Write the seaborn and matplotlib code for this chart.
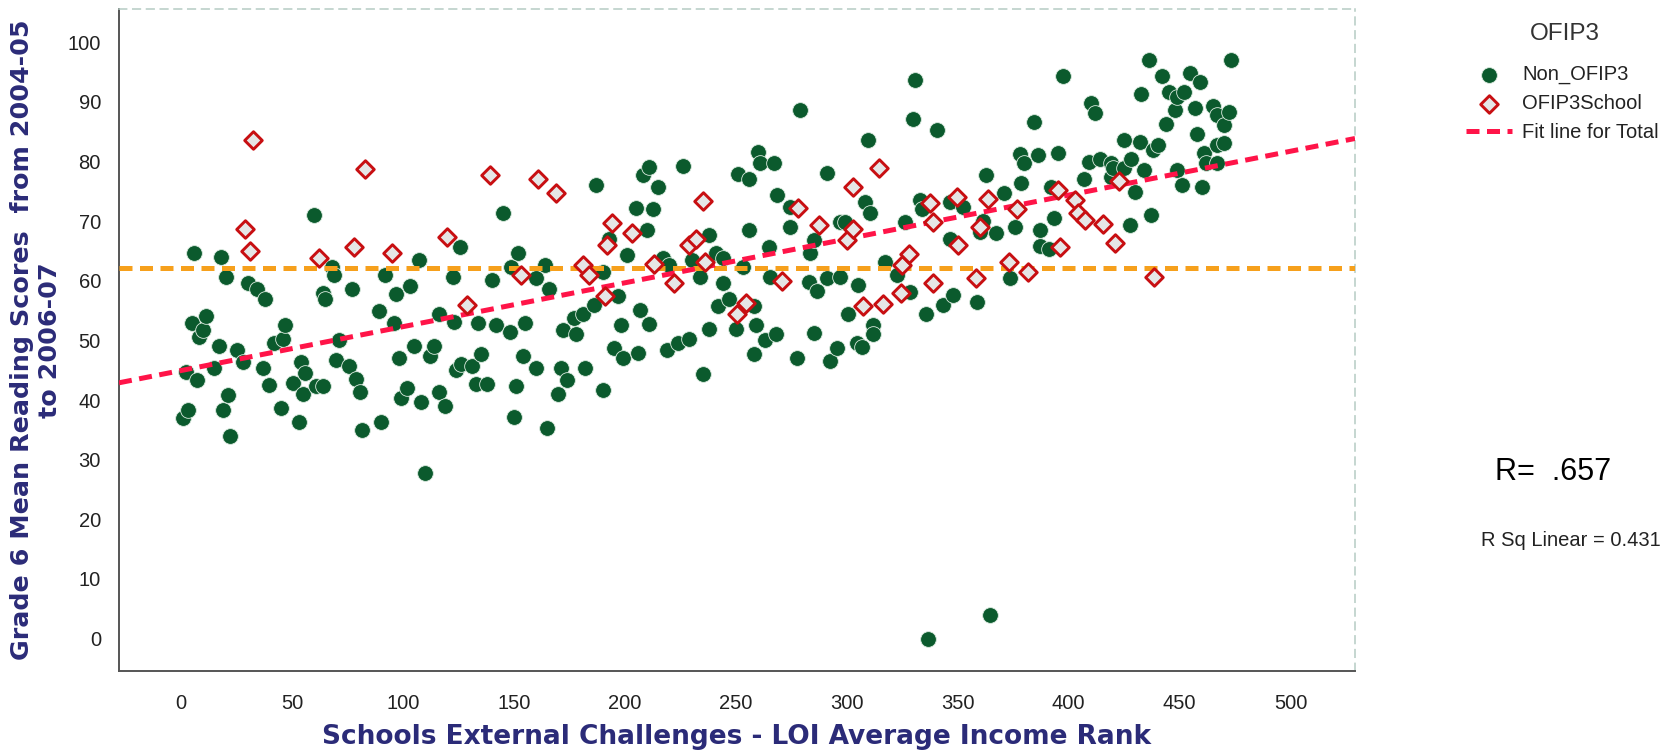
import numpy as np
import pandas as pd
import matplotlib
matplotlib.use("Agg")
import matplotlib.pyplot as plt
import seaborn as sns

# Schools not in OFIP3: LOI average income rank and grade 6 mean reading score
non_ofip3_rank = [
    1, 3, 2, 5, 6, 7, 8, 10, 11, 15, 17, 18, 19, 20, 21, 22, 25, 28, 30, 34,
    37, 38, 39.5, 42, 45, 46, 47, 50.5, 53, 54, 55, 56, 60, 61, 64, 64, 65, 68, 69, 70,
    71, 75.5, 77, 79, 80.5, 81.5, 89, 90, 92, 96, 97, 98, 99, 102, 103, 105, 107, 108, 110, 112,
    114, 116, 116, 119, 122.5, 123, 124, 125.5, 126, 131, 133, 134, 135, 138, 140, 142, 145, 148, 148.5, 150,
    151, 152, 154, 155, 160, 160, 164, 165, 166, 170, 171, 172, 174, 177, 178, 181, 182, 186, 187, 190,
    190, 193, 195, 197, 198, 199, 201, 205, 206, 207, 208, 210, 211, 211, 212.6, 215, 217, 219, 220, 224,
    226, 229, 230, 234, 235, 238, 238, 241, 242, 244, 244, 247, 250, 251, 253, 256, 256, 258, 258, 259,
    260, 261, 263, 264.7, 265.5, 267, 268, 268.5, 274.5, 274.5, 277.5, 279, 283, 283.5, 285, 285, 286.5, 291, 291, 292.5,
    295.5, 297, 299, 297, 300.5, 304.5, 305, 307, 308, 309.5, 310.5, 312, 312, 317, 322.5, 326, 328.5, 329.6, 330.5, 333,
    334, 335.7, 336.5, 340.5, 343.5, 346.5, 346.5, 348, 352.5, 358.6, 360, 361.5, 362.6, 364.5, 367, 371, 373.6, 376, 378, 378.5,
    380, 384.5, 386, 387, 387, 391, 392, 393.5, 395, 397.6, 407, 409, 410, 412, 414, 419, 419, 420, 425, 425,
    427.6, 428, 430, 432, 432.6, 434, 436, 437, 438, 440, 442, 444, 445, 448, 449, 449, 451, 452, 454.6, 457,
    458, 459, 460, 461, 462, 465, 467, 467, 467, 470, 470, 472, 473,
]
non_ofip3_score = [
    37, 38.4, 44.7, 52.9, 64.7, 43.3, 50.5, 51.8, 54.1, 45.3, 49, 64, 38.3, 60.7, 40.8, 34, 48.4, 46.4, 59.7, 58.7,
    45.3, 57, 42.5, 49.6, 38.7, 50.3, 52.6, 42.8, 36.3, 46.4, 41.1, 44.5, 71, 42.3, 42.3, 58, 57, 62.3, 61, 46.7,
    50, 45.7, 58.7, 43.6, 41.4, 35, 55, 36.3, 61, 52.9, 57.8, 47, 40.3, 42, 59.1, 49, 63.5, 39.7, 27.7, 47.4,
    49, 54.5, 41.4, 39, 60.7, 53.1, 45, 65.7, 46.1, 45.7, 42.7, 52.9, 47.7, 42.7, 60.1, 52.6, 71.3, 51.5, 62.3, 37.1,
    42.3, 64.7, 47.4, 52.9, 60.4, 45.3, 62.6, 35.3, 58.7, 41, 45.3, 51.7, 43.3, 53.7, 51.1, 54.5, 45.3, 55.9, 76.1, 61.5,
    41.7, 67.1, 48.8, 57.4, 52.6, 47, 64.3, 72.3, 47.9, 55.1, 77.7, 68.6, 79.1, 52.7, 72.1, 75.7, 63.8, 48.4, 62.6, 49.6,
    79.3, 50.2, 63.5, 60.7, 44.3, 67.7, 52, 64.6, 55.8, 63.8, 59.7, 57, 52, 78, 62.3, 77.1, 68.5, 55.8, 47.7, 52.6,
    81.6, 79.7, 50, 65.7, 60.7, 79.7, 51, 74.4, 72.4, 69, 47, 88.6, 59.8, 64.6, 66.8, 51.2, 58.3, 78.1, 60.4, 46.6,
    48.8, 69.9, 69.9, 60.7, 54.4, 49.6, 59.3, 48.9, 73.2, 83.7, 71.3, 52.6, 51, 63.2, 61, 69.9, 58.2, 87.1, 93.7, 73.5,
    72, 54.4, 0, 85.3, 55.9, 73.2, 67.1, 57.7, 72.4, 56.5, 68.2, 70.1, 77.7, 4, 68, 74.8, 60.4, 69, 81.2, 76.4,
    79.7, 86.7, 81.1, 68.6, 65.8, 65.3, 75.8, 70.6, 81.4, 94.3, 77, 80, 89.8, 88.2, 80.4, 79.7, 77.5, 78.9, 83.7, 78.9,
    69.3, 80.4, 74.9, 83.3, 91.3, 78.6, 97, 71, 82, 82.8, 94.3, 86.3, 91.7, 88.6, 90.9, 78.6, 76.1, 91.7, 94.8, 89,
    84.7, 93.4, 75.7, 81.4, 79.7, 89.3, 87.8, 82.8, 79.8, 83.1, 86.1, 88.4, 97,
]

# OFIP3 schools
ofip3_rank = [
    29, 31, 32.3, 62, 78, 83, 95, 120, 129, 139, 153, 161, 169, 181, 184, 191, 192, 194, 203, 213,
    222, 229, 232, 235, 236, 250.5, 254.5, 271, 278, 287.5, 300, 303, 303, 307.5, 314.5, 316.5, 324.5, 325, 328, 337.5,
    339, 339, 349.5, 350, 358, 360, 363.5, 373, 376.6, 381.5, 395, 396, 403, 404, 407.5, 415.6, 421, 422.7, 438.6,
]
ofip3_score = [
    68.7, 65, 83.6, 63.8, 65.7, 78.7, 64.7, 67.4, 56, 77.7, 61, 77.1, 74.7, 62.6, 61, 57.4, 66, 69.7, 68.1, 62.9,
    59.7, 66, 67, 73.4, 63.2, 54.4, 56.3, 60, 72.3, 69.3, 66.9, 68.7, 75.7, 55.8, 79, 56.1, 57.9, 62.6, 64.5, 73.1,
    69.9, 59.7, 74.1, 66, 60.4, 69.1, 73.7, 63.2, 72, 61.5, 75.2, 65.7, 73.5, 71.3, 70.2, 69.6, 66.3, 76.7, 60.7,
]

# Overall mean reading score of all schools (reference line)
overall_mean_score = 62.1

groups = ["Non_OFIP3", "OFIP3School"]
x_ticks = list(range(0, 501, 50))
y_ticks = list(range(0, 101, 10))

df = pd.DataFrame({
    "rank": non_ofip3_rank + ofip3_rank,
    "score": non_ofip3_score + ofip3_score,
    "group": [groups[0]] * len(non_ofip3_rank) + [groups[1]] * len(ofip3_rank),
})

sns.set_style("white")
plt.rcParams["font.family"] = ["Liberation Sans", "DejaVu Sans"]

W, H = 1677, 751
fig = plt.figure(figsize=(W / 100, H / 100), dpi=100)
ax = fig.add_axes([119 / W, 1 - 670.7 / H, (1355 - 119) / W, (670.7 - 9) / H])
xlim, ylim = (-28, 529), (-5.4, 105.6)
ax.set_xlim(*xlim)
ax.set_ylim(*ylim)

green = "#0b5a2d"
red_edge = "#c80f12"
fit_red = "#ff1448"
orange = "#f6a01c"

sns.scatterplot(data=df[df["group"] == groups[0]], x="rank", y="score", ax=ax,
                color=green, s=128, edgecolor="#dcebe0", linewidth=0.6,
                label=groups[0], zorder=2)
sns.scatterplot(data=df[df["group"] == groups[1]], x="rank", y="score", ax=ax,
                marker="D", s=80, facecolor="#e6e6e6", edgecolor=red_edge,
                linewidth=2.1, label=groups[1], zorder=4)

# Mean reference line and least-squares fit over all schools
ax.axhline(overall_mean_score, color=orange, lw=3.6, dashes=(2.6, 1.5), zorder=3)
sns.regplot(data=df, x="rank", y="score", ax=ax, scatter=False, ci=None,
            truncate=False, label="Fit line for Total",
            line_kws=dict(color=fit_red, lw=3.6, dashes=(2.6, 1.5), zorder=3))
ax.set_xlim(*xlim)
ax.set_ylim(*ylim)

ax.set_xticks(x_ticks)
ax.set_yticks(y_ticks)
ax.tick_params(axis="both", direction="out", length=11, width=1.3,
               color="#333333", labelsize=14.5, labelcolor="#222222")
ax.tick_params(axis="y", pad=2)
ax.tick_params(axis="x", pad=6)

for side in ("left", "bottom"):
    ax.spines[side].set_color("#555555")
    ax.spines[side].set_linewidth(1.4)
for side in ("top", "right"):
    ax.spines[side].set_color("#b5ccc3")
    ax.spines[side].set_linewidth(1.1)
    ax.spines[side].set_linestyle((0, (5, 4)))

title_color = "#2b2b78"
ax.set_xlabel("Schools External Challenges - LOI Average Income Rank",
              fontsize=19, fontweight="bold", color=title_color,
              family="DejaVu Sans")
ax.xaxis.set_label_coords(0.5, ((1 - 737 / H) - (1 - 670.7 / H)) / ((670.7 - 9) / H))
ax.xaxis.label.set_va("center")
ax.set_ylabel("Grade 6 Mean Reading Scores  from 2004-05\nto 2006-07",
              fontsize=18.3, fontweight="bold", color=title_color,
              family="DejaVu Sans", linespacing=1.2)
ax.yaxis.set_label_coords((36 - 119) / (1355 - 119), 0.5)
ax.yaxis.label.set_va("center")

leg = ax.legend(loc="upper left", bbox_to_anchor=(1466 / W, 1 - 65 / H),
                bbox_transform=fig.transFigure, frameon=False,
                fontsize=14.5, handlelength=2.3, handletextpad=0.5,
                labelspacing=0.5, borderpad=0, borderaxespad=0)
for t in leg.get_texts():
    t.set_color("#222222")
fig.text(1565 / W, 1 - 34 / H, "OFIP3", fontsize=17.5, color="#333333",
         ha="center", va="center")

fig.text(1495 / W, 1 - 472 / H, "R=  .657", fontsize=22, color="black",
         ha="left", va="center")
fig.text(1481 / W, 1 - 541 / H, "R Sq Linear = 0.431", fontsize=14.5,
         color="#222222", ha="left", va="center")

fig.savefig("out.png", dpi=100, facecolor="white")
